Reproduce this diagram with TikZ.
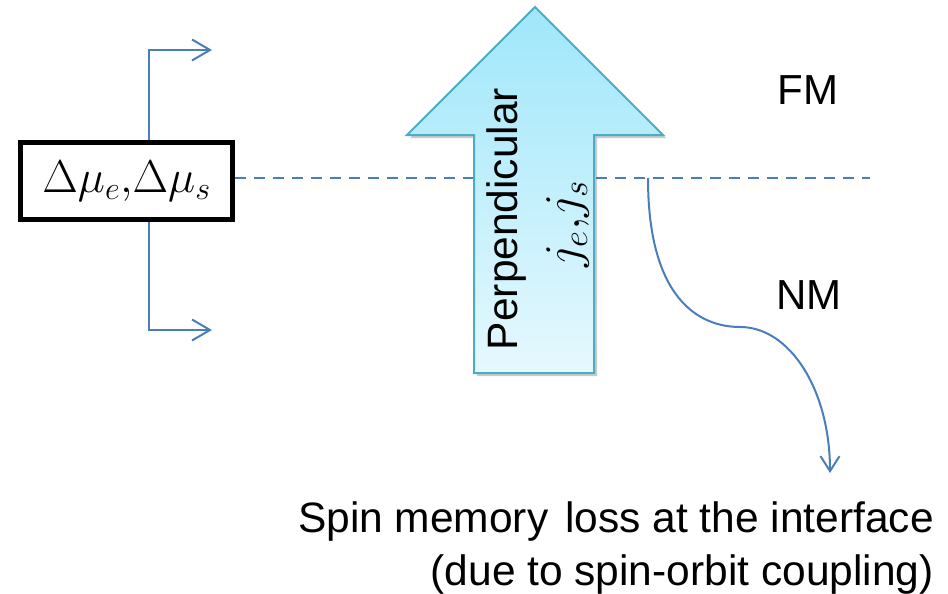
\documentclass[tikz,border=0pt]{standalone}
\usepackage{fix-cm}
\usepackage{fontspec}
\setmainfont{Liberation Sans}
\usetikzlibrary{arrows.meta,shadows,calc}

\definecolor{flowblue}{HTML}{4A7EBB}
\definecolor{arrowedge}{HTML}{4BACC6}
\definecolor{arrowtop}{HTML}{9FE7FA}
\definecolor{arrowbot}{HTML}{E6F8FE}

\tikzset{
  flow/.style={draw=flowblue, line width=2pt},
  openhead/.style={-{Straight Barb[length=18pt,width=21pt,line width=2pt]}},
  interface/.style={draw=flowblue, line width=1.8pt, dash pattern=on 11pt off 8pt},
  potbox/.style={draw=black, line width=4.5pt, fill=white, inner sep=0pt,
    minimum width=212pt, minimum height=77pt},
  label/.style={font=\fontsize{42}{48}\selectfont, inner sep=0pt},
  bigarrow/.style={draw=arrowedge, line width=2pt, top color=arrowtop,
    bottom color=arrowbot, line join=miter,
    drop shadow={shadow xshift=3pt, shadow yshift=-3pt, opacity=0.35, fill=black!60}}
}

\begin{document}
\begin{tikzpicture}[x=1pt, y=-1pt]
  \useasboundingbox (0,0) rectangle (948,594);

  % box holding the potential differences
  \node[potbox] (mu) at (126.5,181)
    {\fontsize{46}{50}\selectfont $\Delta\mu_e{,}\Delta\mu_s$};

  % anchors for the connectors
  \coordinate (stem) at (149,0);
  \coordinate (topend) at (212,50);
  \coordinate (botend) at (212,330);
  \coordinate (dashend) at (870,178);
  \coordinate (slip) at (648,178);
  \coordinate (lossend) at (830,473);

  % interface between FM and NM
  \draw[interface] (mu.east |- dashend) -- (dashend);

  % flows leaving the box upwards and downwards
  \draw[flow, openhead] (mu.north -| stem) |- (topend);
  \draw[flow, openhead] (mu.south -| stem) |- (botend);

  % block arrow for the perpendicular currents
  \draw[bigarrow] (535,7) -- (663,135) -- (594,135) -- (594,373)
    -- (474,373) -- (474,135) -- (407,135) -- cycle;
  \node[label, rotate=90, font=\fontsize{42.5}{48}\selectfont] (perp) at (507,219) {Perpendicular};
  \node[rotate=90, inner sep=0pt] (jj) at (568,224)
    {\fontsize{50}{54}\selectfont $j_e{,}j_s$};

  % layer labels
  \node[label] (fm) at (808,90) {FM};
  \node[label] (nm) at (809,295) {NM};

  % spin memory loss path
  \draw[flow, -{Straight Barb[length=15pt,width=19pt,line width=2pt]}]
    (slip) .. controls (648,300) and (700,327) .. (740,327)
    .. controls (790,327) and (830,390) .. (lossend);

  \node[label, align=right, anchor=east, font=\fontsize{42.5}{53}\selectfont] (note) at (934,548)
    {Spin memory\hspace{5pt} loss at the interface\\(due to spin-orbit coupling)};
\end{tikzpicture}
\end{document}
